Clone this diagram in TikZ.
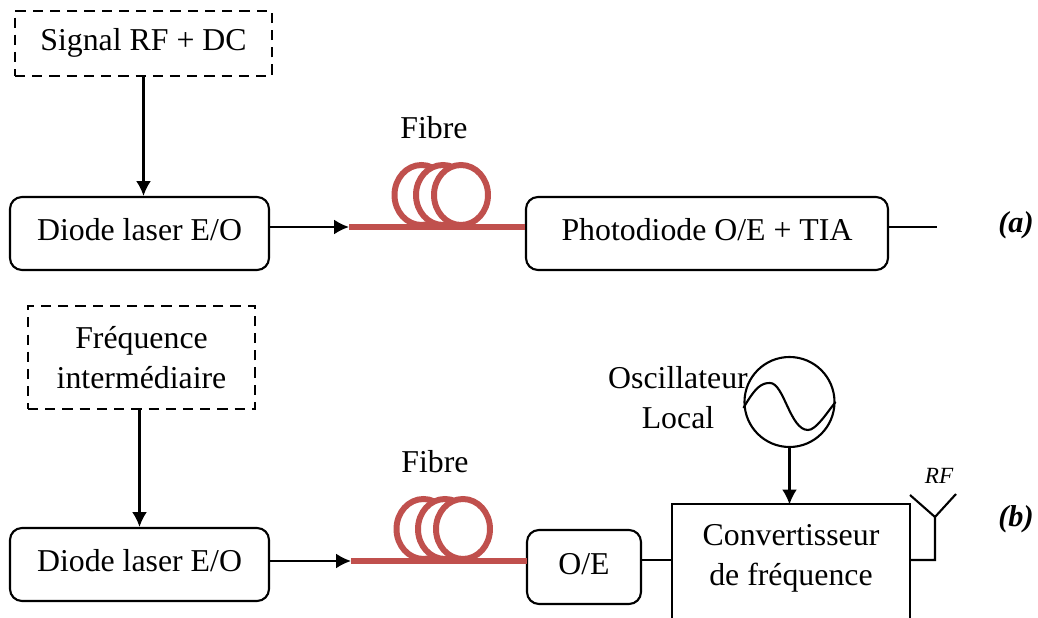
\documentclass[tikz,border=0pt]{standalone}
\usepackage{fontspec}
\setmainfont{Liberation Serif}
\usetikzlibrary{arrows.meta}

\tikzset{
	legend/.style = {font = \fontsize{9.05}{11.4}\selectfont, align = center, inner sep = 0},
	block/.style = {legend, draw, rounded corners = 3.4pt, minimum height = 0.73cm, text height = 6.5pt, text depth = 2.24pt},
	source/.style = {legend, draw, line width = 0.65pt, dash pattern = on 2.9pt off 2pt},
	side/.style = {legend, font = \fontsize{8.6}{10}\selectfont\bfseries\itshape},
	link/.style = {->},
	coil/.style = {draw = fibrered, fill = white, line width = 1.7pt}
}

\definecolor{fibrered}{HTML}{C0504D}

\begin{document}
\begin{tikzpicture}[> = {Latex[length = 4.2pt, width = 4.2pt]}, line width = 0.6pt]

	\useasboundingbox (0, 0) rectangle (10.38, -6.18);
	\clip (0, 0) rectangle (10.38, -6.18);

	% Link (a)

	\node (signal) [source, minimum width = 2.57cm, minimum height = 0.65cm, text height = 6.5pt, text depth = 2.24pt] at (1.435, -0.435) {Signal RF + DC};
	\node (laserA) [block, minimum width = 2.59cm] at (1.395, -2.335) {Diode laser E/O};
	\node (photo) [block, minimum width = 3.62cm] at (7.07, -2.335) {Photodiode O/E + TIA};
	\node (fibreA) [legend] at (4.34, -1.28) {Fibre};
	\node (labelA) [side] at (10.16, -2.25) {(a)};

	\coordinate (startA) at (3.49, -2.27);
	\coordinate (endA) at (5.25, -2.27);
	\coordinate (outA) at (9.37, -2.27);

	% Fibre coil (a)

	\foreach \x in {4.215, 4.43, 4.61}
		\draw [coil] (\x, -1.95) ellipse (0.27 and 0.3);
	\draw [coil] (startA) -- (endA);

	\draw [link] (signal.south) -- (signal.south |- laserA.north);
	\draw [link] (laserA.east |- startA) -- (startA);
	\draw (photo.east |- outA) -- (outA);

	% Link (b)

	\node (freq) [source, minimum width = 2.27cm, minimum height = 1.03cm] at (1.415, -3.575) {Fréquence\\intermédiaire};
	\node (laserB) [block, minimum width = 2.59cm] at (1.395, -5.645) {Diode laser E/O};
	\node (oe) [block, minimum width = 1.14cm, minimum height = 0.74cm] at (5.84, -5.67) {O/E};
	\node (fibreB) [legend] at (4.35, -4.62) {Fibre};
	\node (labelB) [side] at (10.16, -5.19) {(b)};

	\coordinate (startB) at (3.51, -5.61);
	\coordinate (endB) at (5.27, -5.61);

	% Fibre coil (b)

	\foreach \x in {4.235, 4.45, 4.63}
		\draw [coil] (\x, -5.29) ellipse (0.27 and 0.3);
	\draw [coil] (startB) -- (endB);

	\draw [link] (freq.south -| laserB.north) -- (laserB.north);
	\draw [link] (laserB.east |- startB) -- (startB);

	% Converter, cut by the lower edge

	\node (conv) [minimum width = 2.35cm, minimum height = 1.31cm] at (7.91, -5.71) {};
	\node (convText) [legend] at (7.91, -5.585) {Convertisseur\\de fréquence};
	\draw (conv.south west) |- (conv.north east) -- (conv.south east);

	\draw (oe.east |- 0, -5.6) -- (conv.west |- 0, -5.6);

	% Local oscillator

	\node (osc) [draw, circle, minimum size = 0.9cm, inner sep = 0] at (7.895, -4.02) {};
	\node (oscText) [legend] at (6.78, -3.98) {Oscillateur\\Local};
	\draw (osc.west) ++ (0, -0.06) .. controls (7.56, -3.86) and (7.62, -3.83) .. (7.7, -3.83)
		.. controls (7.84, -3.83) and (7.9, -4.3) .. (8.08, -4.3)
		.. controls (8.16, -4.3) and (8.26, -4.14) .. (osc.east);
	\draw [link] (osc.south) -- (osc.south |- conv.north);

	% Antenna

	\coordinate (feed) at (9.35, -5.6);
	\coordinate (mast) at (9.35, -5.17);
	\coordinate (armL) at (9.1, -4.95);
	\coordinate (armR) at (9.56, -4.94);
	\draw (conv.east |- feed) -- (feed) -- (mast) -- (armL);
	\draw (mast) -- (armR);
	\node (rf) [legend, font = \fontsize{6.6}{7}\selectfont\itshape] at (9.39, -4.76) {RF};

\end{tikzpicture}
\end{document}
